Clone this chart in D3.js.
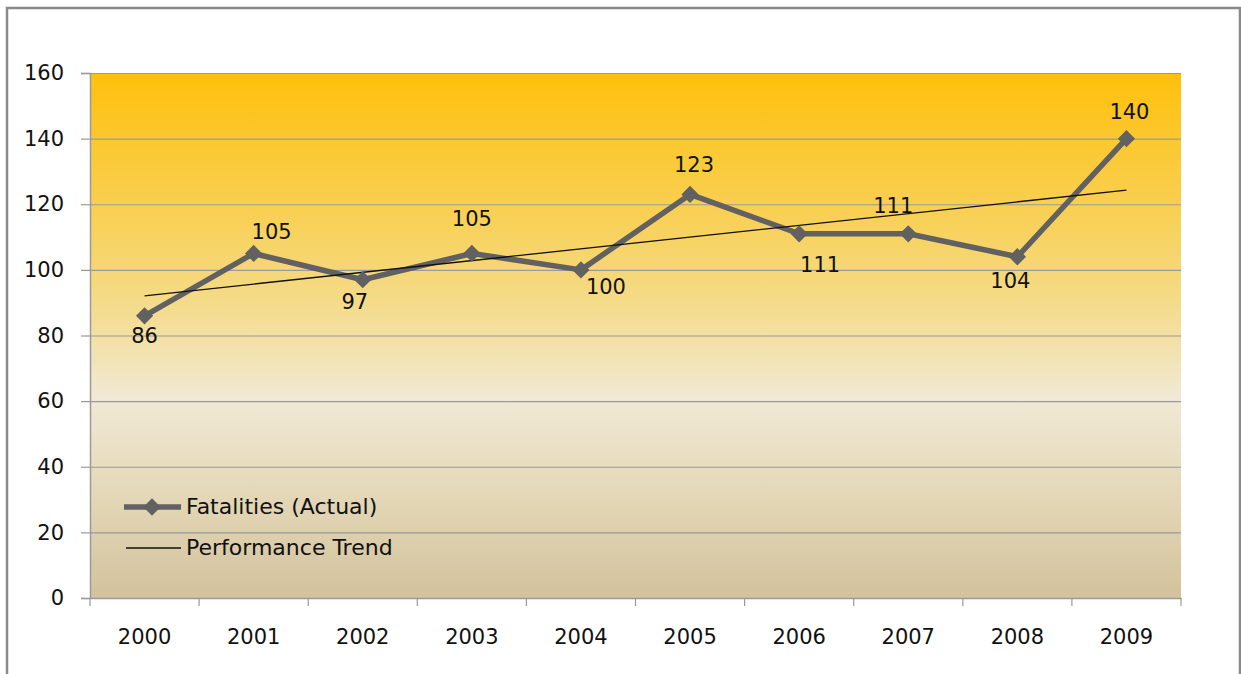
<!DOCTYPE html>
<html><head><meta charset="utf-8">
<script src="https://cdn.jsdelivr.net/npm/d3@7"></script>
<style>body{margin:0;background:#fff;}svg{display:block;}</style>
</head><body>
<svg id="c" width="1241" height="674"></svg>
<script>
const years = ["2000","2001","2002","2003","2004","2005","2006","2007","2008","2009"];
const fatalities = [86,105,97,105,100,123,111,111,104,140];
const trendEnds = [92.1,124.3];
const yTicks = [0,20,40,60,80,100,120,140,160];
const seriesNames = ["Fatalities (Actual)","Performance Trend"];

// label layout (offsets from point)
const labelDx = [0,18,-8,0,25,4,21,-15,-7,3];
const labelDy = [27,-14,29,-27,24,-22,38,-21,31,-20];

const svg = d3.select("#c");
const m = {l:90, r:1181, t:73, b:598};
const font = "'DejaVu Sans', sans-serif";
const fs = 21;

// outer frame
svg.append("path").attr("d","M7,674 V8 H1240 V674").attr("fill","none").attr("stroke","#8a8a8a").attr("stroke-width",2.5);

const x = d3.scaleBand().domain(years).range([m.l,m.r]).padding(0);
const y = d3.scaleLinear().domain([0,160]).range([m.b,m.t]);

const defs = svg.append("defs");
const g = defs.append("linearGradient").attr("id","bg").attr("x1",0).attr("y1",0).attr("x2",0).attr("y2",1);
[[0,"#fec00c"],[0.3,"#f8d25e"],[0.45,"#f4dc8e"],[0.62,"#f1e9d5"],[0.8,"#e4d8b8"],[1,"#d3c29d"]]
  .forEach(([o,c])=>g.append("stop").attr("offset",o).attr("stop-color",c));
svg.append("rect").attr("x",m.l).attr("y",m.t).attr("width",m.r-m.l).attr("height",m.b-m.t).attr("fill","url(#bg)");

// gridlines
svg.append("g").selectAll("line").data(yTicks).join("line")
  .attr("x1",m.l).attr("x2",m.r).attr("y1",d=>y(d)+0.5).attr("y2",d=>y(d)+0.5)
  .attr("stroke","#9a9a9a").attr("stroke-width",1.2);

// y axis
const ya = svg.append("g").attr("transform",`translate(${m.l},0)`)
  .call(d3.axisLeft(y).tickValues(yTicks).tickSize(9).tickPadding(17));
ya.select(".domain").attr("stroke","#9a9a9a").attr("stroke-width",1.5);
ya.selectAll(".tick line").attr("stroke","#9a9a9a").attr("stroke-width",1.2);
ya.selectAll("text").attr("font-family",font).attr("font-size",fs).attr("fill","#111");

// x axis
const xa = svg.append("g").attr("transform",`translate(0,${m.b})`)
  .call(d3.axisBottom(x).tickSize(0).tickPadding(31));
xa.select(".domain").attr("stroke","#9a9a9a").attr("stroke-width",1.5);
xa.selectAll("text").attr("font-family",font).attr("font-size",fs).attr("fill","#111");
const bounds = years.map(d=>x(d)).concat([m.r]);
xa.selectAll(".bt").data(bounds).join("line").attr("class","bt")
  .attr("x1",d=>d).attr("x2",d=>d).attr("y1",0).attr("y2",8)
  .attr("stroke","#9a9a9a").attr("stroke-width",1.2);

const cx = d=>x(d)+x.bandwidth()/2;

// actual line
const line = d3.line().x((d,i)=>cx(years[i])).y(d=>y(d));
svg.append("path").datum(fatalities).attr("d",line).attr("fill","none")
  .attr("stroke","#616161").attr("stroke-width",5.5).attr("stroke-linejoin","round");

// trend
svg.append("line").attr("x1",cx(years[0])).attr("y1",y(trendEnds[0]))
  .attr("x2",cx(years[years.length-1])).attr("y2",y(trendEnds[1]))
  .attr("stroke","#111").attr("stroke-width",1.3);

// markers
const sym = d3.symbol().type(d3.symbolDiamond2).size(190);
svg.append("g").selectAll("path").data(fatalities).join("path")
  .attr("d",sym).attr("transform",(d,i)=>`translate(${cx(years[i])},${y(d)})`).attr("fill","#616161");

// labels
svg.append("g").selectAll("text").data(fatalities).join("text")
  .attr("x",(d,i)=>cx(years[i])+labelDx[i]).attr("y",(d,i)=>y(d)+labelDy[i])
  .attr("text-anchor","middle").attr("font-family",font).attr("font-size",fs).attr("fill","#111")
  .text(d=>d);

// legend
const lg = svg.append("g");
lg.append("line").attr("x1",124).attr("x2",181).attr("y1",507).attr("y2",507).attr("stroke","#616161").attr("stroke-width",5.5);
lg.append("path").attr("d",sym).attr("transform","translate(152,507)").attr("fill","#616161");
lg.append("line").attr("x1",126).attr("x2",181).attr("y1",548).attr("y2",548).attr("stroke","#111").attr("stroke-width",1.3);
lg.selectAll("text").data(seriesNames).join("text")
  .attr("x",186).attr("y",(d,i)=>514+i*41).attr("font-family",font).attr("font-size",22).attr("fill","#111")
  .text(d=>d);
</script>
</body></html>
